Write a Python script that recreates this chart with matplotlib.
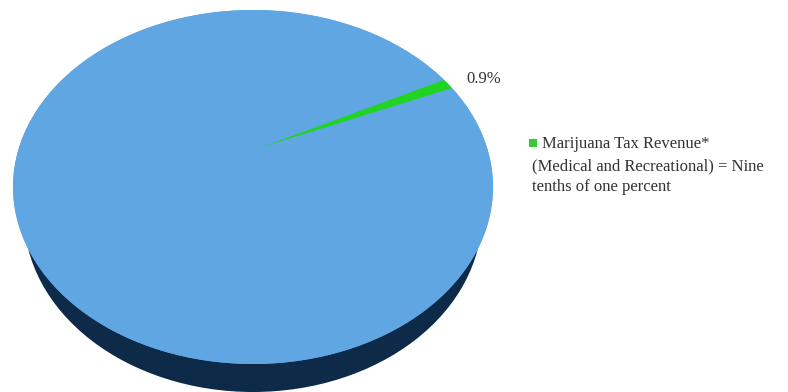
import numpy as np
import matplotlib
matplotlib.use("Agg")
import matplotlib.pyplot as plt
from matplotlib.patches import Polygon, Ellipse, Rectangle

# Data
categories = ["Other revenue", "Marijuana Tax Revenue* (Medical and Recreational)"]
values = [99.1, 0.9]
label_text = "0.9%"
legend_lines = ["Marijuana Tax Revenue*", "(Medical and Recreational) = Nine", "tenths of one percent"]

# Style / layout (pixel coordinates)
W, H = 788, 392
cx, cy, rx, ry = 253, 187, 240, 177
depth = 28
rx_bottom = 229
apex = (262, 147)
start_deg = 34.0
top_color = "#5fa6e3"
side_color = "#0d2b48"
slice_colors = [top_color, "#22d422"]

fig = plt.figure(figsize=(W / 100, H / 100), dpi=100)
ax = fig.add_axes([0, 0, 1, 1])
ax.set_xlim(0, W)
ax.set_ylim(H, 0)
ax.axis("off")

# side of the 3D pie (slightly narrower bottom for perspective)
ax.add_patch(Ellipse((cx, cy + depth), 2 * rx_bottom, 2 * ry, facecolor=side_color, edgecolor="none"))
# top face
ax.add_patch(Ellipse((cx, cy), 2 * rx, 2 * ry, facecolor=top_color, edgecolor="none"))

# slices: each drawn as a wedge from apex to ellipse arc
total = sum(values)
small_span = values[1] / total * 360
angles = [(start_deg + small_span, start_deg + 360), (start_deg, start_deg + small_span)]
for (a0, a1), col in zip(angles, slice_colors):
    t = np.radians(np.linspace(a0, a1, 200))
    xs = cx + rx * np.cos(t)
    ys = cy - ry * np.sin(t)
    pts = np.column_stack([np.r_[apex[0], xs], np.r_[apex[1], ys]])
    ax.add_patch(Polygon(pts, closed=True, facecolor=col, edgecolor="none"))

# slice label
ax.text(466, 83, label_text, fontsize=12, family="Liberation Serif", color="#333333",
        ha="left", va="baseline")

# legend
ax.add_patch(Rectangle((529, 139), 8, 8, facecolor="#33cc33", edgecolor="none"))
ax.text(542, 148, legend_lines[0], fontsize=12, family="Liberation Serif", color="#333333",
        ha="left", va="baseline")
ax.text(532, 170, legend_lines[1], fontsize=12, family="Liberation Serif", color="#333333",
        ha="left", va="baseline")
ax.text(532, 191, legend_lines[2], fontsize=12, family="Liberation Serif", color="#333333",
        ha="left", va="baseline")

fig.savefig("out.png", dpi=100)
